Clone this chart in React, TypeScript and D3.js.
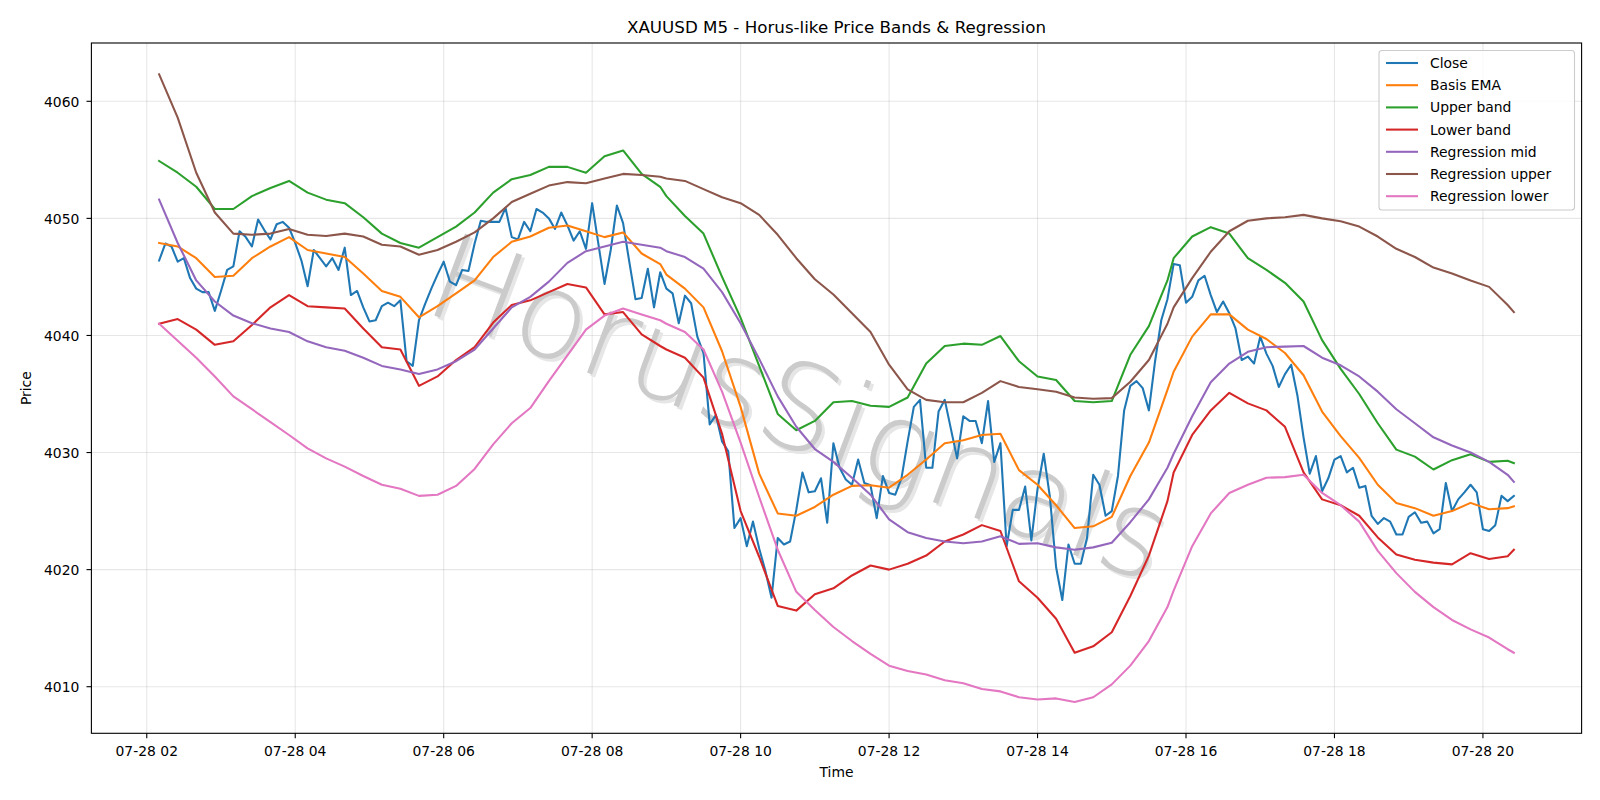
import * as d3 from 'd3';

// XAUUSD 5-minute bars, 07-28 02:10 .. 20:25
const TITLE = 'XAUUSD M5 - Horus-like Price Bands & Regression';
const FIRST_BAR = new Date(2025, 6, 28, 2, 10);
const BAR_MINUTES = 5;

const closeValues = [
  4046.4, 4047.85, 4047.6, 4046.3, 4046.6, 4044.9, 4044.0, 4043.7, 4043.7, 4042.1,
  4043.8, 4045.6, 4045.9, 4048.9, 4048.4, 4047.6, 4049.9, 4049.0, 4048.2, 4049.5,
  4049.7, 4049.2, 4047.9, 4046.4, 4044.2, 4047.3, 4046.6, 4045.9, 4046.6, 4045.6,
  4047.5, 4043.45, 4043.8, 4042.4, 4041.2, 4041.3, 4042.5, 4042.8, 4042.5, 4043.0,
  4037.8, 4037.4, 4041.3, 4042.7, 4044.0, 4045.2, 4046.3, 4044.6, 4044.3, 4045.6,
  4045.5, 4047.85, 4049.8, 4049.7, 4049.7, 4049.7, 4050.9, 4048.4, 4048.2, 4049.7,
  4048.9, 4050.8, 4050.5, 4050.0, 4049.1, 4050.5, 4049.4, 4048.1, 4048.9, 4047.4,
  4051.3, 4047.85, 4044.4, 4047.3, 4051.1, 4049.6, 4046.3, 4043.1, 4043.2, 4045.7,
  4042.4, 4045.4, 4044.0, 4043.6, 4041.05, 4043.4, 4042.75, 4039.9, 4038.5, 4032.4,
  4033.2, 4030.95, 4030.1, 4023.55, 4024.4, 4022.0, 4024.1, 4021.8, 4019.9, 4017.6,
  4022.7, 4022.15, 4022.4, 4025.1, 4028.3, 4026.6, 4026.7, 4027.8, 4024.0, 4030.8,
  4028.7, 4027.7, 4027.25, 4029.4, 4027.4, 4027.2, 4024.4, 4028.0, 4026.55, 4026.4,
  4027.8, 4030.95, 4033.9, 4034.5, 4028.7, 4028.7, 4033.5, 4034.5, 4032.0, 4029.5,
  4033.1, 4032.7, 4032.7, 4030.8, 4034.4, 4029.2, 4030.8, 4022.0, 4025.1, 4025.1,
  4027.1, 4022.5, 4026.9, 4029.9, 4026.2, 4020.2, 4017.4, 4022.15, 4020.5, 4020.5,
  4022.7, 4028.1, 4027.25, 4024.6, 4025.0, 4028.0, 4033.6, 4035.7, 4036.1, 4035.5,
  4033.6, 4037.8, 4041.3, 4043.1, 4046.1, 4046.0, 4042.8, 4043.3, 4044.7, 4045.1,
  4043.45, 4042.0, 4042.9, 4041.9, 4040.6, 4037.9, 4038.2, 4037.6, 4039.9, 4038.45,
  4037.4, 4035.6, 4036.7, 4037.5, 4034.9, 4031.3, 4028.2, 4029.7, 4026.7, 4027.8,
  4029.4, 4029.7, 4028.3, 4028.7, 4027.0, 4027.15, 4024.6, 4023.9, 4024.4, 4024.1,
  4023.0, 4023.0, 4024.5, 4024.9, 4024.0, 4024.1, 4023.1, 4023.45, 4027.4, 4025.0,
  4026.0, 4026.6, 4027.25, 4026.6, 4023.45, 4023.3, 4023.8, 4026.3, 4025.85, 4026.3,
];

// bar numbers at which the band / regression values below were sampled
const bandBars = [
  0, 3, 6, 9, 12, 15, 18, 21, 24, 27, 30, 33, 36, 39, 42, 45, 48, 51, 54, 57, 60, 63, 66, 69, 72, 75, 78, 81,
  82, 85, 88, 91, 94, 97, 100, 103, 106, 109, 112, 115, 118, 121, 124, 127, 130, 133, 136, 139, 142, 145, 148, 151, 154, 157, 160, 163,
  164, 167, 170, 173, 176, 179, 182, 185, 188, 191, 194, 197, 200, 203, 206, 209, 212, 215, 218, 219,
];

const basisEma = [
  4047.9, 4047.6, 4046.6, 4045.0, 4045.1, 4046.6, 4047.6, 4048.4, 4047.3, 4047.0, 4046.7, 4045.3, 4043.8, 4043.3,
  4041.55, 4042.5, 4043.6, 4044.7, 4046.7, 4048.0, 4048.45, 4049.2, 4049.4, 4048.9, 4048.4, 4048.8, 4047.0, 4046.1,
  4045.2, 4044.0, 4042.4, 4038.65, 4033.9, 4028.2, 4024.8, 4024.6, 4025.35, 4026.4, 4027.15, 4027.2, 4027.0, 4028.1,
  4029.4, 4030.8, 4031.05, 4031.5, 4031.6, 4028.5, 4027.25, 4025.5, 4023.55, 4023.7, 4024.5, 4028.0, 4030.85, 4035.35,
  4036.9, 4039.9, 4041.8, 4041.8, 4040.5, 4039.7, 4038.5, 4036.6, 4033.5, 4031.4, 4029.55, 4027.25, 4025.7, 4025.25,
  4024.6, 4025.0, 4025.7, 4025.15, 4025.25, 4025.4,
];

const upperBand = [
  4054.9, 4053.9, 4052.7, 4050.8, 4050.8, 4051.9, 4052.6, 4053.2, 4052.2, 4051.6, 4051.3, 4050.1, 4048.7, 4047.9,
  4047.5, 4048.4, 4049.3, 4050.5, 4052.2, 4053.35, 4053.7, 4054.4, 4054.4, 4053.9, 4055.3, 4055.8, 4053.8, 4052.7,
  4051.9, 4050.2, 4048.7, 4045.0, 4041.5, 4037.4, 4033.3, 4031.9, 4032.7, 4034.3, 4034.4, 4034.0, 4033.9, 4034.7,
  4037.6, 4039.1, 4039.3, 4039.2, 4039.95, 4037.8, 4036.5, 4036.2, 4034.4, 4034.3, 4034.4, 4038.35, 4040.8, 4044.7,
  4046.6, 4048.45, 4049.25, 4048.7, 4046.6, 4045.6, 4044.5, 4042.9, 4039.6, 4037.15, 4035.0, 4032.5, 4030.25, 4029.65,
  4028.55, 4029.35, 4029.85, 4029.2, 4029.3, 4029.1,
];

const lowerBand = [
  4041.0, 4041.4, 4040.5, 4039.2, 4039.5, 4040.9, 4042.4, 4043.45, 4042.5, 4042.4, 4042.3, 4040.6, 4039.0, 4038.8,
  4035.7, 4036.5, 4037.9, 4039.0, 4041.1, 4042.6, 4043.0, 4043.7, 4044.4, 4044.1, 4041.8, 4042.0, 4040.1, 4039.1,
  4038.8, 4038.1, 4036.4, 4031.6, 4025.0, 4021.1, 4016.9, 4016.5, 4017.9, 4018.4, 4019.5, 4020.35, 4020.0, 4020.5,
  4021.2, 4022.4, 4023.0, 4023.8, 4023.3, 4019.0, 4017.6, 4015.8, 4012.9, 4013.45, 4014.65, 4017.75, 4021.2, 4025.85,
  4028.3, 4031.5, 4033.6, 4035.1, 4034.2, 4033.6, 4032.2, 4028.3, 4026.0, 4025.5, 4024.6, 4022.75, 4021.3, 4020.85,
  4020.6, 4020.45, 4021.4, 4020.9, 4021.15, 4021.7,
];

const regressionMid = [
  4051.6, 4047.9, 4044.7, 4042.9, 4041.7, 4041.05, 4040.6, 4040.3, 4039.5, 4039.0, 4038.7, 4038.1, 4037.4, 4037.1,
  4036.7, 4037.1, 4037.8, 4038.8, 4040.6, 4042.4, 4043.3, 4044.6, 4046.2, 4047.2, 4047.6, 4048.0, 4047.75, 4047.5,
  4047.2, 4046.7, 4045.7, 4043.7, 4041.05, 4038.0, 4034.8, 4032.2, 4030.3, 4029.2, 4027.85, 4026.4, 4024.3, 4023.2,
  4022.7, 4022.4, 4022.25, 4022.4, 4022.85, 4022.2, 4022.25, 4021.9, 4021.7, 4021.9, 4022.3, 4024.05, 4026.0, 4028.7,
  4029.9, 4033.1, 4036.0, 4037.6, 4038.6, 4039.0, 4039.05, 4039.1, 4038.1, 4037.45, 4036.5, 4035.2, 4033.7, 4032.5,
  4031.3, 4030.6, 4030.0, 4029.2, 4028.1, 4027.5,
];

const regressionUpper = [
  4062.3, 4058.6, 4053.9, 4050.5, 4048.7, 4048.6, 4048.7, 4049.1, 4048.6, 4048.5, 4048.7, 4048.45, 4047.75, 4047.6,
  4046.9, 4047.3, 4048.0, 4048.8, 4050.0, 4051.4, 4052.1, 4052.8, 4053.1, 4053.0, 4053.4, 4053.8, 4053.7, 4053.55,
  4053.4, 4053.2, 4052.5, 4051.8, 4051.3, 4050.3, 4048.6, 4046.6, 4044.8, 4043.5, 4041.9, 4040.3, 4037.5, 4035.4,
  4034.5, 4034.3, 4034.3, 4035.1, 4036.1, 4035.6, 4035.4, 4035.2, 4034.7, 4034.6, 4034.65, 4036.05, 4037.9, 4041.0,
  4042.4, 4044.9, 4047.15, 4048.9, 4049.8, 4050.0, 4050.1, 4050.3, 4050.0, 4049.75, 4049.3, 4048.45, 4047.4, 4046.7,
  4045.8, 4045.3, 4044.7, 4044.15, 4042.6, 4042.0,
];

const regressionLower = [
  4041.0, 4039.55, 4038.1, 4036.5, 4034.8, 4033.7, 4032.6, 4031.5, 4030.35, 4029.5, 4028.8, 4028.0, 4027.25, 4026.9,
  4026.3, 4026.4, 4027.15, 4028.6, 4030.7, 4032.5, 4033.8, 4036.1, 4038.3, 4040.5, 4041.7, 4042.3, 4041.8, 4041.3,
  4041.0, 4040.3, 4038.8, 4035.2, 4030.85, 4026.2, 4021.7, 4018.1, 4016.55, 4015.1, 4013.9, 4012.8, 4011.8, 4011.35,
  4011.05, 4010.55, 4010.3, 4009.8, 4009.6, 4009.1, 4008.9, 4009.0, 4008.7, 4009.1, 4010.2, 4011.8, 4013.9, 4016.8,
  4018.2, 4022.0, 4024.8, 4026.55, 4027.25, 4027.85, 4027.9, 4028.1, 4026.55, 4025.5, 4024.1, 4021.6, 4019.7, 4018.1,
  4016.8, 4015.7, 4014.9, 4014.2, 4013.2, 4012.9,
];

const closeBars = closeValues.map((_, i) => i);

const series = [
  { name: 'Close', color: '#1f77b4', bars: closeBars, values: closeValues },
  { name: 'Basis EMA', color: '#ff7f0e', bars: bandBars, values: basisEma },
  { name: 'Upper band', color: '#2ca02c', bars: bandBars, values: upperBand },
  { name: 'Lower band', color: '#d62728', bars: bandBars, values: lowerBand },
  { name: 'Regression mid', color: '#9467bd', bars: bandBars, values: regressionMid },
  { name: 'Regression upper', color: '#8c564b', bars: bandBars, values: regressionUpper },
  { name: 'Regression lower', color: '#e377c2', bars: bandBars, values: regressionLower },
];

const W = 1600;
const H = 800;
const plot = { left: 91.4, right: 1581.6, top: 43, bottom: 733.3 };
const FONT = '"DejaVu Sans", sans-serif';

const barTime = (k: number) => new Date(FIRST_BAR.getTime() + k * BAR_MINUTES * 60000);

export default function App() {
  // matplotlib-style autoscale: data extent plus 5% each side
  const t0 = barTime(0).getTime();
  const t1 = barTime(closeValues.length - 1).getTime();
  const tPad = (t1 - t0) * 0.05;
  const x = d3
    .scaleTime()
    .domain([new Date(t0 - tPad), new Date(t1 + tPad)])
    .range([plot.left, plot.right]);

  const allValues = series.flatMap((s) => s.values);
  const lo = d3.min(allValues) as number;
  const hi = d3.max(allValues) as number;
  const vPad = (hi - lo) * 0.05;
  const y = d3
    .scaleLinear()
    .domain([lo - vPad, hi + vPad])
    .range([plot.bottom, plot.top]);

  const xTicks = x.ticks(d3.timeHour.every(2) as d3.TimeInterval);
  const fmt = d3.timeFormat('%m-%d %H');
  const yTicks = y.ticks(6);

  const paths = series.map((s) => {
    const line = d3
      .line<number>()
      .x((_, i) => x(barTime(s.bars[i])))
      .y((d) => y(d));
    return { ...s, d: line(s.values) || '' };
  });

  const cx = (plot.left + plot.right) / 2;
  const cy = (plot.top + plot.bottom) / 2;

  // watermark anchor
  const wm = { x: 800, y: 408, angle: 20.5 };

  // legend box
  const lg = { left: 1379, top: 50.5, right: 1574.5, bottom: 210, row0: 63, step: 22.2 };

  return (
    <div style={{ position: 'absolute', left: 0, top: 0 }}>
      <svg width={W} height={H} style={{ display: 'block', background: '#fff' }} fontFamily={FONT}>
        <rect width={W} height={H} fill="#fff" />

        {/* grid */}
        <g stroke="#b0b0b0" strokeOpacity={0.3} strokeWidth={1.1}>
          {xTicks.map((t, i) => (
            <line key={`gx${i}`} x1={x(t)} x2={x(t)} y1={plot.top} y2={plot.bottom} />
          ))}
          {yTicks.map((v, i) => (
            <line key={`gy${i}`} x1={plot.left} x2={plot.right} y1={y(v)} y2={y(v)} />
          ))}
        </g>

        {/* watermark */}
        <g fontSize={120} fontWeight={200} textAnchor="middle" dominantBaseline="central">
          <text transform={`translate(${wm.x + 3},${wm.y + 3}) rotate(${wm.angle})`} fill="#e6e6e6">
            HorusSignals
          </text>
          <text transform={`translate(${wm.x},${wm.y}) rotate(${wm.angle})`} fill="#cbcbcb">
            HorusSignals
          </text>
        </g>

        {/* series */}
        <g fill="none" strokeWidth={2.08} strokeLinejoin="round" strokeLinecap="square">
          {paths.map((p) => (
            <path key={p.name} d={p.d} stroke={p.color} />
          ))}
        </g>

        {/* spines */}
        <rect
          x={plot.left}
          y={plot.top}
          width={plot.right - plot.left}
          height={plot.bottom - plot.top}
          fill="none"
          stroke="#000"
          strokeWidth={1.1}
        />

        {/* x axis */}
        <g fontSize={13.9} textAnchor="middle" fill="#000">
          {xTicks.map((t, i) => (
            <g key={`xt${i}`}>
              <line x1={x(t)} x2={x(t)} y1={plot.bottom} y2={plot.bottom + 4.9} stroke="#000" strokeWidth={1.1} />
              <text x={x(t)} y={plot.bottom + 22.5}>
                {fmt(t)}
              </text>
            </g>
          ))}
        </g>
        <text x={cx} y={777} fontSize={13.9} textAnchor="middle">
          Time
        </text>

        {/* y axis */}
        <g fontSize={13.9} textAnchor="end" fill="#000">
          {yTicks.map((v, i) => (
            <g key={`yt${i}`}>
              <line x1={plot.left - 4.9} x2={plot.left} y1={y(v)} y2={y(v)} stroke="#000" strokeWidth={1.1} />
              <text x={plot.left - 12} y={y(v) + 5.2}>
                {d3.format('d')(v)}
              </text>
            </g>
          ))}
        </g>
        <text transform={`translate(31,${cy}) rotate(-90)`} fontSize={13.9} textAnchor="middle">
          Price
        </text>

        {/* title */}
        <text x={cx} y={33} fontSize={16.7} textAnchor="middle">
          {TITLE}
        </text>

        {/* legend */}
        <rect
          x={lg.left}
          y={lg.top}
          width={lg.right - lg.left}
          height={lg.bottom - lg.top}
          rx={3}
          fill="#fff"
          fillOpacity={0.8}
          stroke="#cccccc"
          strokeWidth={1.1}
        />
        {series.map((s, i) => {
          const ry = lg.row0 + i * lg.step;
          return (
            <g key={`lg${i}`}>
              <line x1={1386} x2={1418} y1={ry} y2={ry} stroke={s.color} strokeWidth={2.08} />
              <text x={1430} y={ry + 5} fontSize={13.9}>
                {s.name}
              </text>
            </g>
          );
        })}
      </svg>
    </div>
  );
}
